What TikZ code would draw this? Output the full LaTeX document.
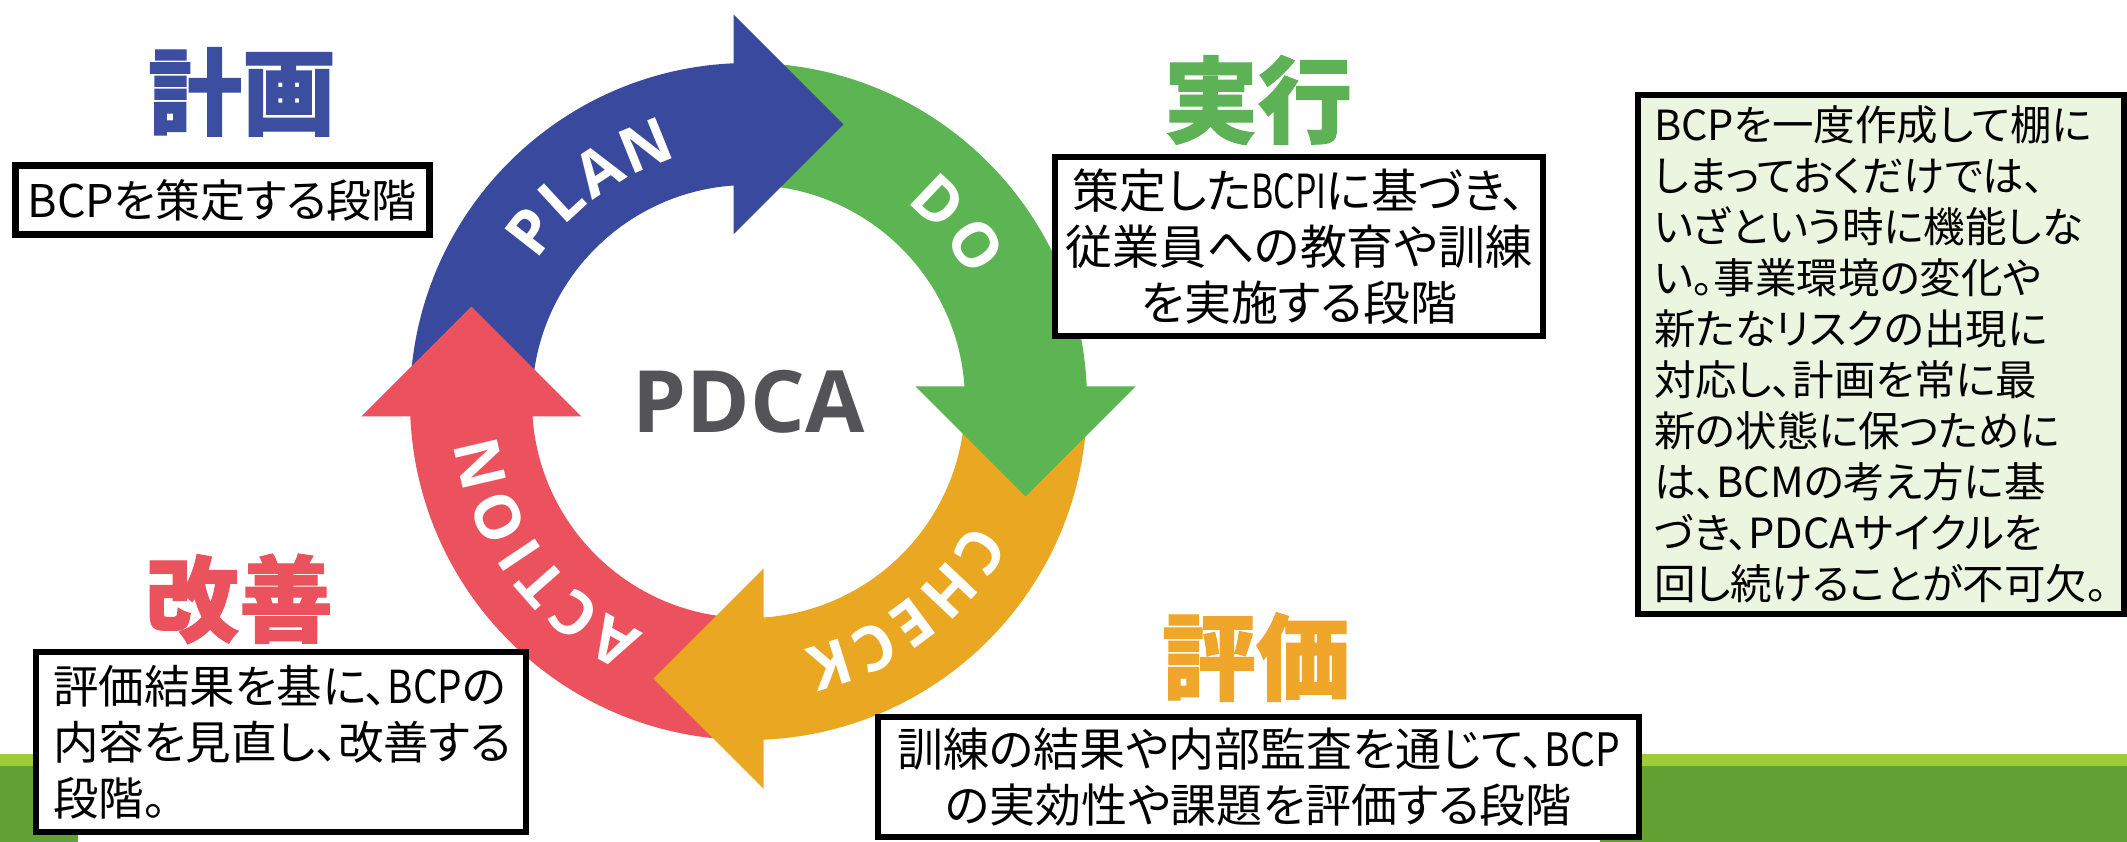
\documentclass[tikz,border=0pt]{standalone}
\usepackage{fontspec}
\usepackage{graphicx}
\newfontfamily\jp[RawFeature=+palt]{Noto Sans CJK JP}
\newfontfamily\jpt[BoldFeatures={FakeBold=1.2}]{Noto Sans CJK JP}
\newfontfamily\osans{Open Sans}
\newcommand\narrowlat[2]{\scalebox{#1}[1]{#2}}
\definecolor{cBlue}{RGB}{57,73,157}
\definecolor{cGreen}{RGB}{92,180,83}
\definecolor{cOrange}{RGB}{234,168,34}
\definecolor{cRed}{RGB}{236,82,94}
\definecolor{tBlue}{RGB}{59,78,160}
\definecolor{tGreen}{RGB}{93,178,86}
\definecolor{tOrange}{RGB}{240,166,43}
\definecolor{tRed}{RGB}{234,83,93}
\definecolor{cGray}{RGB}{84,84,88}
\definecolor{noteFill}{RGB}{235,245,224}
\definecolor{barLight}{RGB}{157,203,58}
\definecolor{barDark}{RGB}{98,161,52}
\begin{document}
\begin{tikzpicture}[x=1pt,y=1pt,
  boxframe/.style={draw=black, line width=6.5pt, fill=white, inner sep=0pt, outer sep=0pt},
  boxtext/.style={inner sep=0pt, outer sep=0pt, text=black},
  titletext/.style={font=\jpt\bfseries\fontsize{94}{94}\selectfont, inner sep=0pt},
  ringletter/.style={font=\osans\bfseries\fontsize{62}{62}\selectfont, text=white, inner sep=0pt},
]
\path[use as bounding box] (0,0) rectangle (2127,842);
\fill[white] (0,0) rectangle (2127,842);

% bottom green bars
\fill[barDark] (0,0) rectangle (78,76);
\fill[barLight] (0,76) rectangle (78,88);
\fill[barDark] (1600,0) rectangle (2127,76);
\fill[barLight] (1600,76) rectangle (2127,88);

% ring bands
\coordinate (C) at (748.5,440.5);
\begin{scope}[shift={(748.5,440.5)}]
  \fill[cBlue] (180:338.5) arc[start angle=180,end angle=90,radius=338.5] -- (90:216.5) arc[start angle=90,end angle=180,radius=216.5] -- cycle;
  \fill[cGreen] (90:338.5) arc[start angle=90,end angle=0,radius=338.5] -- (0:216.5) arc[start angle=0,end angle=90,radius=216.5] -- cycle;
  \fill[cOrange] (0:338.5) arc[start angle=0,end angle=-90,radius=338.5] -- (-90:216.5) arc[start angle=-90,end angle=0,radius=216.5] -- cycle;
  \fill[cRed] (-90:338.5) arc[start angle=-90,end angle=-180,radius=338.5] -- (-180:216.5) arc[start angle=-180,end angle=-90,radius=216.5] -- cycle;
\end{scope}

% arrow heads
\fill[cBlue] (733.5,607.6) -- (733.5,827.6) -- (843.5,717.6) -- cycle;
\fill[cGreen] (915.6,455.5) -- (1135.6,455.5) -- (1025.6,345.5) -- cycle;
\fill[cOrange] (763.5,53.4) -- (763.5,273.4) -- (653.5,163.4) -- cycle;
\fill[cRed] (361.4,425.5) -- (581.4,425.5) -- (471.4,535.5) -- cycle;

% ring letters
\begin{scope}[shift={(748.5,440.5)}]
  \foreach \a/\l/\n in {142/P/1, 132.7/L/2, 123.1/A/3, 112/N/4}
    \node[ringletter, rotate=\a-90] (plan\n) at (\a:276) {\l};
  \foreach \a/\l/\n in {46.5/D/1, 34.5/O/2}
    \node[ringletter, rotate=\a-90] (do\n) at (\a:276) {\l};
  \foreach \a/\l/\n in {-32.8/C/1, -43.3/H/2, -53.4/E/3, -62.7/C/4, -72.7/K/5}
    \node[ringletter, rotate=\a-90] (check\n) at (\a:276) {\l};
  \foreach \a/\l/\n in {-119.1/A/1, -129.2/C/2, -138.6/T/3, -146.2/I/4, -155.1/O/5, -166.8/N/6}
    \node[ringletter, rotate=\a-90] (action\n) at (\a:276) {\l};
\end{scope}

\node[font=\osans\bfseries\fontsize{86}{86}\selectfont, text=cGray, inner sep=0pt] (pdca) at (C) {PDCA};

% titles
\node[titletext, text=tBlue] (tplan) at (242,750) {計画};
\node[titletext, text=tGreen] (tdo) at (1258,742) {実行};
\node[titletext, text=tOrange] (tcheck) at (1256,185) {評価};
\node[titletext, text=tRed] (tact) at (239,243) {改善};

% description boxes
\node[boxframe, minimum width=414, minimum height=69] (b1) at (222.5,642) {};
\node[boxtext, anchor=west, font=\jp\fontsize{45}{50}\selectfont] (b1t) at ([xshift=12pt]b1.west) {BCPを策定する段階};

\node[boxframe, minimum width=488, minimum height=179] (b2) at (1299,595.5) {};
\node[boxtext, align=center, font=\jp\fontsize{47}{56}\selectfont] (b2t) at (b2.center) {策定した\narrowlat{0.72}{BCPI}に基づき、\\従業員への教育や訓練\\を実施する段階};

\node[boxframe, minimum width=761, minimum height=120] (b3) at (1258.5,65) {};
\node[boxtext, align=center, font=\jp\fontsize{46}{56.5}\selectfont] (b3t) at (b3.center) {訓練の結果や内部監査を通じて、\narrowlat{0.85}{BCP}\\の実効性や課題を評価する段階};

\node[boxframe, minimum width=490, minimum height=180] (b4) at (281,100) {};
\node[boxtext, anchor=west, align=left, font=\jp\fontsize{45.5}{56}\selectfont] (b4t) at ([xshift=17pt]b4.west) {評価結果を基に、\narrowlat{0.85}{BCP}の\\内容を見直し、改善する\\段階。};

\node[boxframe, fill=noteFill, minimum width=486, minimum height=519] (note) at (1881,487.5) {};
\node[boxtext, anchor=west, align=left, font=\jp\fontsize{41.5}{51}\selectfont] (notet) at ([xshift=16pt]note.west) {BCPを一度作成して棚に\\しまっておくだけでは、\\いざという時に機能しな\\い。事業環境の変化や\\新たなリスクの出現に\\対応し、計画を常に最\\新の状態に保つために\\は、BCMの考え方に基\\づき、PDCAサイクルを\\回し続けることが不可欠。};
\end{tikzpicture}
\end{document}
